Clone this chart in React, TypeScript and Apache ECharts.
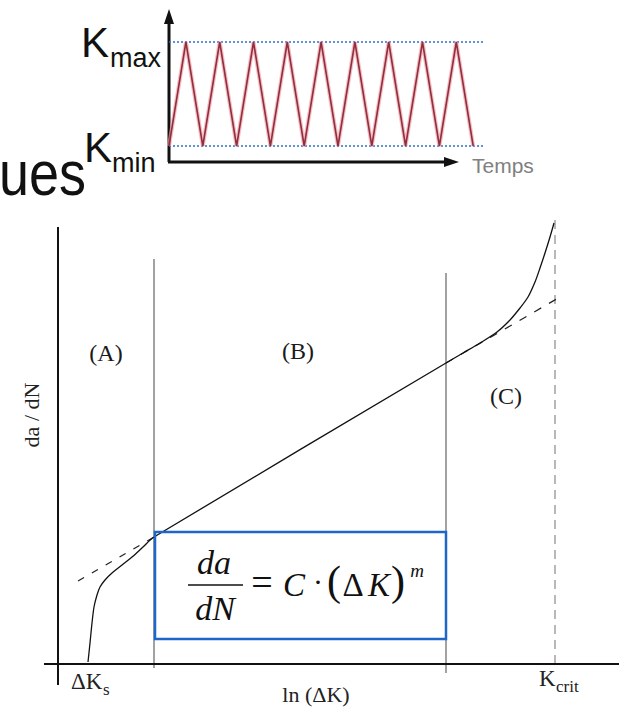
import React, { useEffect, useRef } from "react";
import * as echarts from "echarts";

// ---- Inset: cyclic loading (time vs K) ----
const cycleTime = [0, 0.5, 1, 1.5, 2, 2.5, 3, 3.5, 4, 4.5, 5, 5.5, 6, 6.5, 7, 7.5, 8, 8.5, 9];
const cycleLoad = [1, 7.5, 1, 7.5, 1, 7.5, 1, 7.5, 1, 7.5, 1, 7.5, 1, 7.5, 1, 7.5, 1, 7.5, 1];
const kMin = 1;
const kMax = 7.5;
const levelEnd = 9.29;

// ---- Main: da/dN vs ln(ΔK) ----
const curveX = [3.0, 3.2, 3.4, 3.6, 3.9, 4.2, 4.7, 5.4, 6.4, 7.4, 8.5, 9.6, 38.8, 40.5, 42.2, 43.9, 45.2, 46.2, 47.0, 47.7, 48.2, 48.7, 49.2, 49.6];
const curveY = [0.2, 2.1, 4.1, 5.7, 6.9, 7.7, 8.4, 9.1, 9.9, 10.7, 11.7, 12.7, 30.1, 31.1, 32.1, 33.2, 34.4, 35.6, 36.7, 38.2, 39.6, 41.1, 42.7, 44.1];
const tangentLow = [[2.0, 8.3], [9.6, 12.7]];
const tangentHigh = [[38.8, 30.1], [50.2, 36.7]];
const regionAB = 9.6;
const regionBC = 38.8;
const kCrit = 49.7;
const regionLabels = ["(A)", "(B)", "(C)"];

const SERIF = '"Liberation Serif", "Times New Roman", serif';
const SANS = '"Liberation Sans", Arial, sans-serif';

function txt(x: number, y: number, text: string, font: string, opts: any = {}) {
  return {
    type: "text",
    x,
    y,
    rotation: opts.rotation || 0,
    scaleX: opts.scaleX || 1,
    scaleY: opts.scaleY || 1,
    silent: true,
    z: 10,
    style: {
      text,
      x: 0,
      y: 0,
      font,
      fill: opts.fill || "#111",
      align: opts.align || "center",
      verticalAlign: "middle",
    },
  };
}

export default function App() {
  const ref = useRef<HTMLDivElement>(null);
  useEffect(() => {
    if (!ref.current) return;
    const chart = echarts.init(ref.current, undefined, { renderer: "svg" });
    const lineMain = (data: number[][], style: any, z = 2) => ({
      type: "line",
      xAxisIndex: 1,
      yAxisIndex: 1,
      data,
      symbol: "none",
      silent: true,
      z,
      lineStyle: style,
    });
    const option: any = {
      animation: false,
      backgroundColor: "#ffffff",
      grid: [
        { left: 169, top: 12, width: 314, height: 150 },
        { left: 38, top: 214, width: 581, height: 480 },
      ],
      xAxis: [
        { type: "value", gridIndex: 0, min: 0, max: 9.29, show: false },
        { type: "value", gridIndex: 1, min: -2, max: 56.1, show: false },
      ],
      yAxis: [
        { type: "value", gridIndex: 0, min: 0, max: 9.375, show: false },
        { type: "value", gridIndex: 1, min: -3, max: 45, show: false },
      ],
      series: [
        {
          type: "line", xAxisIndex: 0, yAxisIndex: 0, symbol: "none", silent: true,
          data: [[0, kMax], [levelEnd, kMax]],
          lineStyle: { color: "#2a6fd0", width: 1.5, type: [2, 2] },
        },
        {
          type: "line", xAxisIndex: 0, yAxisIndex: 0, symbol: "none", silent: true,
          data: [[0, kMin], [levelEnd, kMin]],
          lineStyle: { color: "#2a6fd0", width: 1.5, type: [2, 2] },
        },
        {
          type: "line", xAxisIndex: 0, yAxisIndex: 0, symbol: "none", silent: true,
          data: cycleTime.map((t, i) => [t, cycleLoad[i]]),
          lineStyle: { color: "#f3a0a8", width: 4, opacity: 0.7 },
        },
        {
          type: "line", xAxisIndex: 0, yAxisIndex: 0, symbol: "none", silent: true,
          data: cycleTime.map((t, i) => [t, cycleLoad[i]]),
          lineStyle: { color: "#8e3040", width: 1.6 },
        },
        lineMain([[0, -2.1], [0, 43.7]], { color: "#111", width: 2 }, 3),
        lineMain([[-1.4, 0], [56.1, 0]], { color: "#111", width: 2 }, 3),
        lineMain([[regionAB, -0.4], [regionAB, 40.5]], { color: "#7a7a7a", width: 1.4 }),
        lineMain([[regionBC, -0.9], [regionBC, 39.1]], { color: "#7a7a7a", width: 1.4 }),
        lineMain([[kCrit, 0], [kCrit, 44.7]], { color: "#9a9a9a", width: 1.4, type: [9, 6] }),
        lineMain(tangentLow, { color: "#222", width: 1.2, type: [7, 9] }),
        lineMain(tangentHigh, { color: "#222", width: 1.2, type: [8, 9] }),
        {
          type: "line", xAxisIndex: 1, yAxisIndex: 1, symbol: "none", silent: true, z: 4,
          smooth: 0.3,
          data: curveX.map((x, i) => [x, curveY[i]]),
          lineStyle: { color: "#111", width: 1.3 },
        },
      ],
      graphic: [
        { type: "line", silent: true, shape: { x1: 169, y1: 162, x2: 169, y2: 20 }, style: { stroke: "#111", lineWidth: 3 } },
        { type: "polygon", silent: true, shape: { points: [[164, 24], [174, 24], [169, 9]] }, style: { fill: "#111" } },
        { type: "line", silent: true, shape: { x1: 168, y1: 162, x2: 447, y2: 162 }, style: { stroke: "#111", lineWidth: 3 } },
        { type: "polygon", silent: true, shape: { points: [[444, 157], [444, 167], [459, 162]] }, style: { fill: "#111" } },
        txt(472, 165, "Temps", `21px ${SANS}`, { align: "left", fill: "#808080" }),
        txt(81, 42.6, "K", `42px ${SANS}`, { align: "left" }),
        txt(110, 57.5, "max", `27px ${SANS}`, { align: "left" }),
        txt(84, 147.6, "K", `42px ${SANS}`, { align: "left" }),
        txt(112, 162.5, "min", `27px ${SANS}`, { align: "left" }),
        txt(-1, 173, "ues", `54px ${SANS}`, { align: "left", scaleY: 1.18 }),
        txt(106, 353, regionLabels[0], `24px ${SERIF}`, { fill: "#1a1a1a" }),
        txt(298, 351, regionLabels[1], `24px ${SERIF}`, { fill: "#1a1a1a" }),
        txt(506, 396, regionLabels[2], `24px ${SERIF}`, { fill: "#1a1a1a" }),
        txt(31, 415, "da / dN", `22px ${SERIF}`, { rotation: Math.PI / 2, fill: "#222" }),
        txt(71, 681, "ΔK", `23px ${SERIF}`, { align: "left", fill: "#222" }),
        txt(103, 689, "s", `17px ${SERIF}`, { align: "left", fill: "#222" }),
        txt(316, 694, "ln (ΔK)", `22px ${SERIF}`, { fill: "#222" }),
        txt(539, 678, "K", `23px ${SERIF}`, { align: "left", fill: "#222" }),
        txt(556, 686, "crit", `17px ${SERIF}`, { align: "left", fill: "#222" }),
        { type: "rect", silent: true, z: 9, shape: { x: 155, y: 532, width: 291, height: 107 }, style: { fill: "none", stroke: "#1f66c9", lineWidth: 2.5 } },
        txt(214, 562, "da", `italic 34px ${SERIF}`),
        { type: "line", silent: true, z: 10, shape: { x1: 188, y1: 585, x2: 243, y2: 585 }, style: { stroke: "#111", lineWidth: 1.5 } },
        txt(215, 608, "dN", `italic 34px ${SERIF}`),
        txt(262, 582, "=", `38px ${SERIF}`),
        txt(294, 584.5, "C", `italic 33px ${SERIF}`),
        txt(318, 581, "·", `30px ${SERIF}`),
        txt(334, 581, "(", `42px ${SERIF}`),
        txt(353, 584.5, "Δ", `33px ${SERIF}`),
        txt(379, 584.5, "K", `italic 33px ${SERIF}`),
        txt(398, 581, ")", `42px ${SERIF}`),
        txt(417, 570, "m", `italic 19px ${SERIF}`),
      ],
    };
    chart.setOption(option);
    return () => chart.dispose();
  }, []);
  return (
    <div
      ref={ref}
      style={{ position: "absolute", left: 0, top: 0, width: 619, height: 707, background: "#fff" }}
    />
  );
}
